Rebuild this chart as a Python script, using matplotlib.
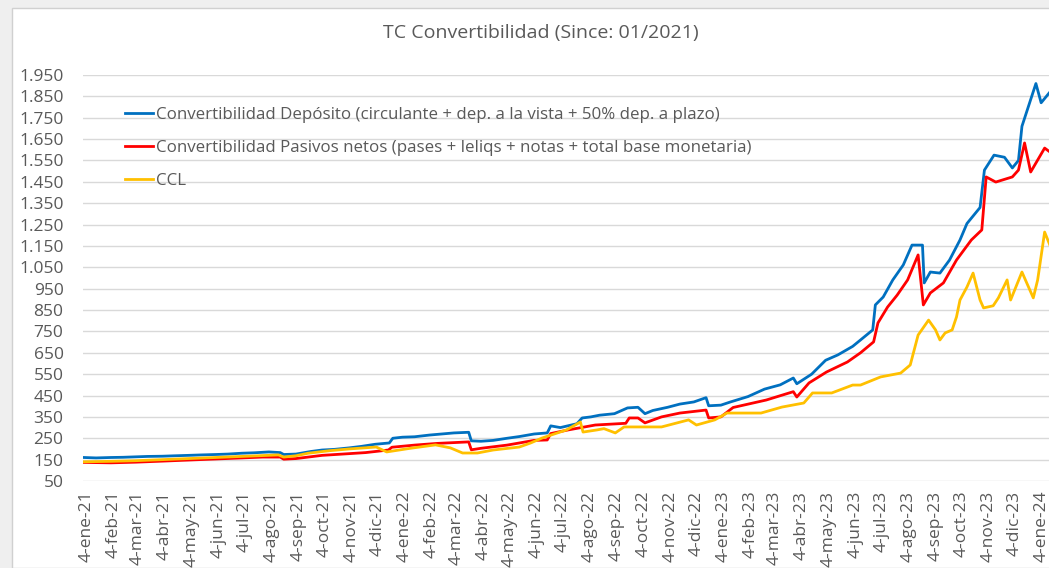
import matplotlib
matplotlib.use("Agg")
import matplotlib.pyplot as plt
from matplotlib.patches import Rectangle
import pandas as pd

plt.rcParams['font.family'] = ['Open Sans', 'DejaVu Sans']

title = "TC Convertibilidad (Since: 01/2021)"
labels = [
    "Convertibilidad Depósito (circulante + dep. a la vista + 50% dep. a plazo)",
    "Convertibilidad Pasivos netos (pases + leliqs + notas + total base monetaria)",
    "CCL",
]
colors = ["#0070C0", "#FF0000", "#FFC000"]

# ---- Data ----
dep_dates = ["2021-01-01", "2021-01-15", "2021-02-01", "2021-02-15", "2021-03-01", "2021-03-15",
             "2021-04-01", "2021-04-15", "2021-05-01", "2021-05-15", "2021-06-01", "2021-06-15",
             "2021-07-01", "2021-07-15", "2021-08-01", "2021-08-14", "2021-08-18", "2021-09-01",
             "2021-09-18", "2021-10-01", "2021-10-15", "2021-11-01", "2021-11-15", "2021-12-01",
             "2021-12-17", "2021-12-21", "2022-01-01", "2022-01-15", "2022-02-01", "2022-02-15",
             "2022-03-01", "2022-03-18", "2022-03-21", "2022-04-01", "2022-04-15", "2022-05-01",
             "2022-05-15", "2022-06-01", "2022-06-16", "2022-06-20", "2022-07-01", "2022-07-20",
             "2022-07-26", "2022-08-05", "2022-08-15", "2022-09-01", "2022-09-16", "2022-09-28",
             "2022-10-06", "2022-10-15", "2022-11-01", "2022-11-15", "2022-12-01", "2022-12-15",
             "2022-12-18", "2023-01-01", "2023-01-12", "2023-02-01", "2023-02-20", "2023-03-10",
             "2023-03-25", "2023-03-29", "2023-04-15", "2023-05-01", "2023-05-15", "2023-06-01",
             "2023-06-10", "2023-06-24", "2023-06-27", "2023-07-06", "2023-07-17", "2023-07-29",
             "2023-08-08", "2023-08-20", "2023-08-22", "2023-08-29", "2023-09-09", "2023-09-20",
             "2023-10-02", "2023-10-10", "2023-10-25", "2023-10-30", "2023-11-10", "2023-11-22",
             "2023-12-01", "2023-12-08", "2023-12-12", "2023-12-20", "2023-12-28", "2024-01-03",
             "2024-01-13"]
dep_vals = [160, 158, 160, 161, 163, 165,
            166, 168, 170, 172, 174, 176,
            180, 182, 186, 183, 174, 176,
            188, 195, 198, 205, 212, 222,
            228, 250, 255, 257, 265, 270,
            275, 278, 238, 236, 240, 250,
            258, 270, 275, 308, 300, 318,
            345, 350, 358, 365, 392, 395,
            365, 380, 395, 410, 420, 440,
            402, 405, 420, 445, 480, 500,
            532, 505, 550, 615, 640, 680,
            710, 757, 874, 911, 991, 1061,
            1154, 1154, 977, 1028, 1023, 1084,
            1178, 1255, 1330, 1505, 1575, 1565,
            1515, 1550, 1710, 1810, 1910, 1820,
            1870]

pas_dates = ["2021-01-01", "2021-02-01", "2021-03-01", "2021-04-01", "2021-05-01", "2021-06-01",
             "2021-07-01", "2021-07-25", "2021-08-14", "2021-08-18", "2021-09-01", "2021-09-15",
             "2021-10-01", "2021-11-01", "2021-11-20", "2021-12-16", "2021-12-20", "2022-01-15",
             "2022-02-10", "2022-03-18", "2022-03-21", "2022-04-01", "2022-05-01", "2022-06-01",
             "2022-06-16", "2022-06-20", "2022-07-10", "2022-08-10", "2022-09-14", "2022-09-18",
             "2022-09-28", "2022-10-06", "2022-10-25", "2022-11-15", "2022-12-15", "2022-12-18",
             "2023-01-01", "2023-01-15", "2023-02-22", "2023-03-25", "2023-03-29", "2023-04-12",
             "2023-05-02", "2023-05-26", "2023-06-10", "2023-06-25", "2023-06-30", "2023-07-11",
             "2023-07-22", "2023-08-03", "2023-08-15", "2023-08-21", "2023-08-29", "2023-09-13",
             "2023-09-28", "2023-10-15", "2023-10-27", "2023-11-01", "2023-11-12", "2023-12-01",
             "2023-12-08", "2023-12-15", "2023-12-22", "2023-12-30", "2024-01-07", "2024-01-13"]
pas_vals = [137, 135, 138, 143, 148, 153,
            158, 162, 162, 152, 155, 162,
            170, 178, 183, 195, 208, 218,
            226, 233, 196, 203, 218, 240,
            242, 272, 289, 312, 320, 345,
            345, 322, 350, 368, 382, 345,
            350, 394, 429, 468, 443, 509,
            560, 607, 650, 701, 790, 864,
            920, 991, 1108, 874, 930, 977,
            1084, 1178, 1225, 1473, 1449, 1473,
            1505, 1632, 1496, 1552, 1608, 1590]

ccl_dates = ["2021-01-01", "2021-02-01", "2021-03-01", "2021-04-01", "2021-05-01", "2021-06-01",
             "2021-07-01", "2021-08-12", "2021-08-18", "2021-09-01", "2021-09-15", "2021-10-10",
             "2021-11-01", "2021-12-02", "2021-12-14", "2022-01-10", "2022-02-08", "2022-02-25",
             "2022-03-11", "2022-03-28", "2022-04-15", "2022-05-15", "2022-05-28", "2022-06-10",
             "2022-07-08", "2022-07-24", "2022-07-27", "2022-08-12", "2022-08-20", "2022-09-02",
             "2022-09-12", "2022-10-25", "2022-11-25", "2022-12-04", "2022-12-25", "2023-01-08",
             "2023-02-16", "2023-03-12", "2023-04-06", "2023-04-16", "2023-05-08", "2023-06-01",
             "2023-06-10", "2023-07-03", "2023-07-26", "2023-08-06", "2023-08-15", "2023-08-27",
             "2023-09-04", "2023-09-09", "2023-09-15", "2023-09-23", "2023-09-28", "2023-10-02",
             "2023-10-10", "2023-10-17", "2023-10-25", "2023-10-29", "2023-11-09", "2023-11-15",
             "2023-11-25", "2023-11-29", "2023-12-12", "2023-12-25", "2023-12-30", "2024-01-07",
             "2024-01-13"]
ccl_vals = [140, 142, 145, 150, 155, 160,
            165, 172, 162, 168, 180, 192,
            200, 209, 186, 203, 219, 205,
            181, 181, 195, 209, 228, 251,
            289, 326, 279, 289, 295, 275,
            303, 303, 336, 312, 336, 368,
            368, 396, 415, 462, 462, 499,
            499, 537, 555, 593, 733, 803,
            757, 710, 743, 757, 818, 897,
            958, 1023, 897, 860, 870, 907,
            991, 897, 1028, 907, 991, 1215,
            1154]

months_es = ["ene", "feb", "mar", "abr", "may", "jun", "jul", "ago", "sep", "oct", "nov", "dic"]
yticks = list(range(50, 2000, 100))

# ---- Figure ----
W, H = 1049, 568
fig = plt.figure(figsize=(W / 100, H / 100), dpi=100)
fig.patch.set_facecolor("#EFEFEF")
fig.patches.append(Rectangle((12 / W, 0), 1, 1 - 8 / H, transform=fig.transFigure,
                             facecolor="white", edgecolor="#D0D0D0", lw=1, zorder=-10))

ax_left, ax_right = 83 / W, 1.0
ax_bottom, ax_top = 1 - 481 / H, 1 - 75 / H
ax = fig.add_axes([ax_left, ax_bottom, ax_right - ax_left, ax_top - ax_bottom])
ax.set_facecolor("none")
ax.set_zorder(5)

series = [(dep_dates, dep_vals), (pas_dates, pas_vals), (ccl_dates, ccl_vals)]
for (d, v), c, lab in zip(series, colors, labels):
    ax.plot(pd.to_datetime(d), v, color=c, lw=2.0, label=lab, solid_joinstyle="round", zorder=3)

ax.set_ylim(50, 1950)
ax.set_xlim(pd.Timestamp("2020-12-31"), pd.Timestamp("2024-01-12"))
ax.set_yticks(yticks)
ax.set_yticklabels([f"{v:,}".replace(",", ".") for v in yticks])

tick_dates = pd.date_range("2021-01-01", "2024-01-01", freq="MS") + pd.Timedelta(days=3)
ax.set_xticks(tick_dates)
ax.set_xticklabels([f"4-{months_es[t.month - 1]}-{t.year % 100:02d}" for t in tick_dates],
                   rotation=90, va="top", ha="center")

ax.grid(axis="y", color="#D9D9D9", lw=1.0)
ax.grid(axis="x", visible=False)
for s in ax.spines.values():
    s.set_visible(False)
ax.tick_params(axis="y", length=0, pad=14, labelsize=12.5, labelcolor="#595959")
ax.tick_params(axis="x", length=0, pad=7, labelsize=12.5, labelcolor="#595959")

fig.text(541 / W, 1 - 33 / H, title, ha="center", va="center", fontsize=14, color="#595959")

leg = ax.legend(loc="upper left", bbox_to_anchor=((125 - 83) / 966, (481 - 107) / 406),
                frameon=False, fontsize=12.2, handlelength=1.65, handletextpad=0.2,
                labelspacing=1.0, borderpad=0, borderaxespad=0)
for t in leg.get_texts():
    t.set_color("#595959")

fig.savefig("out.png", dpi=100, facecolor=fig.get_facecolor())
